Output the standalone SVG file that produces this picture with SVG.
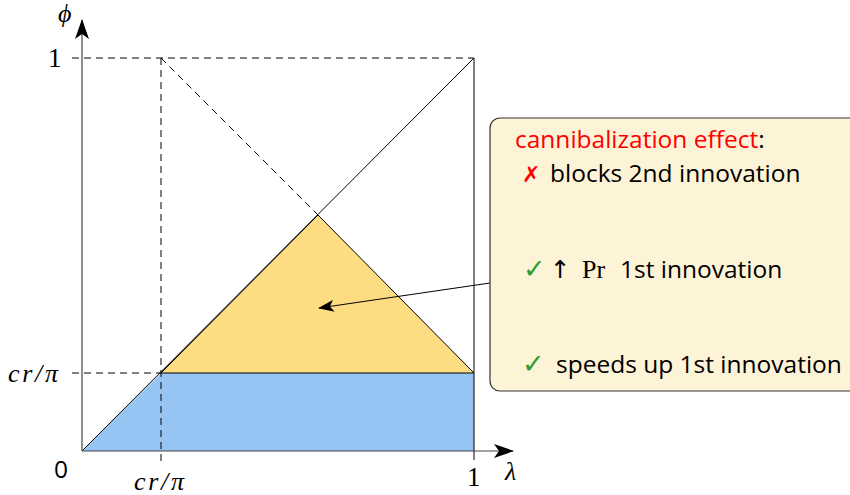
<svg xmlns="http://www.w3.org/2000/svg" width="850" height="495" viewBox="0 0 850 495">
<style>
.ax{stroke:#444;stroke-width:1.2;fill:none}
.ln{stroke:#000;stroke-width:1;fill:none}
.ds{stroke:#000;stroke-width:1;fill:none;stroke-dasharray:7,5}
.m{font-family:"Liberation Serif","DejaVu Serif",serif;font-size:27px;fill:#000}
.mi{font-family:"Liberation Serif","DejaVu Serif",serif;font-size:26px;font-style:italic;fill:#000}
.t{font-family:"Open Sans","DejaVu Sans",sans-serif;font-size:24.5px;fill:#000}
.ck{fill:#2e9e2e;font-family:"DejaVu Sans",sans-serif;font-size:27px}
</style>
<defs>
<marker id="ah" viewBox="0 0 20 14" refX="19" refY="7" markerWidth="20" markerHeight="14" markerUnits="userSpaceOnUse" orient="auto">
<path d="M0,0 L20,7 L0,14 L5,7 Z" fill="#000"/>
</marker>
<marker id="ah2" viewBox="0 0 16 12" refX="15" refY="6" markerWidth="16" markerHeight="12" markerUnits="userSpaceOnUse" orient="auto">
<path d="M0,0 L16,6 L0,12 L4,6 Z" fill="#000"/>
</marker>
</defs>
<g id="regions">
<polygon points="82,451 161,373 474,373 474,451" fill="#96c4f3"/>
<polygon points="161,373 318,215 474,373" fill="#fedd82"/>
</g>
<g id="connectors">
<line class="ds" x1="72" y1="58" x2="474" y2="58"/>
<line class="ds" x1="72" y1="373" x2="161" y2="373"/>
<line class="ds" x1="161" y1="58" x2="161" y2="462"/>
<line class="ds" x1="161" y1="58" x2="318" y2="215"/>
<line class="ln" x1="474" y1="58" x2="474" y2="460"/>
<line class="ln" x1="82" y1="451" x2="474" y2="58"/>
<polyline class="ln" points="161,373 318,215 474,373"/>
<line class="ln" x1="161" y1="373" x2="474" y2="373"/>
<line class="ax" x1="82" y1="451" x2="82" y2="20" marker-end="url(#ah)"/>
<line class="ax" x1="82" y1="451" x2="513" y2="451" marker-end="url(#ah)"/>
<line class="ln" x1="490" y1="283" x2="319" y2="308" marker-end="url(#ah2)"/>
</g>
<g id="axis-labels">
<text class="mi" x="58" y="22">ϕ</text>
<text class="m" x="48" y="67">1</text>
<text class="mi" x="8" y="382" textLength="50" lengthAdjust="spacing">cr/π</text>
<text class="t" x="54" y="478" font-size="26">0</text>
<text class="mi" x="134" y="490" textLength="50" lengthAdjust="spacing">cr/π</text>
<text class="m" x="467" y="486">1</text>
<text class="mi" x="505" y="480">λ</text>
</g>
<g id="note">
<rect x="490" y="118" width="380" height="273" rx="10" fill="#fdf3d7" stroke="#333" stroke-width="1.2"/>
<text class="t" x="515" y="148"><tspan fill="#ff0000">cannibalization effect</tspan>:</text>
<text class="t" x="522" y="182"><tspan fill="#ff0000" font-weight="bold" font-size="22">✗</tspan><tspan x="550">blocks 2nd innovation</tspan></text>
<text class="t" x="523" y="278"><tspan class="ck">✓</tspan><tspan x="550">↑</tspan><tspan x="582" font-family="Liberation Serif,serif" font-size="26">Pr</tspan><tspan x="620">1st innovation</tspan></text>
<text class="t" x="522" y="373"><tspan class="ck">✓</tspan><tspan x="556">speeds up 1st innovation</tspan></text>
</g>
</svg>
